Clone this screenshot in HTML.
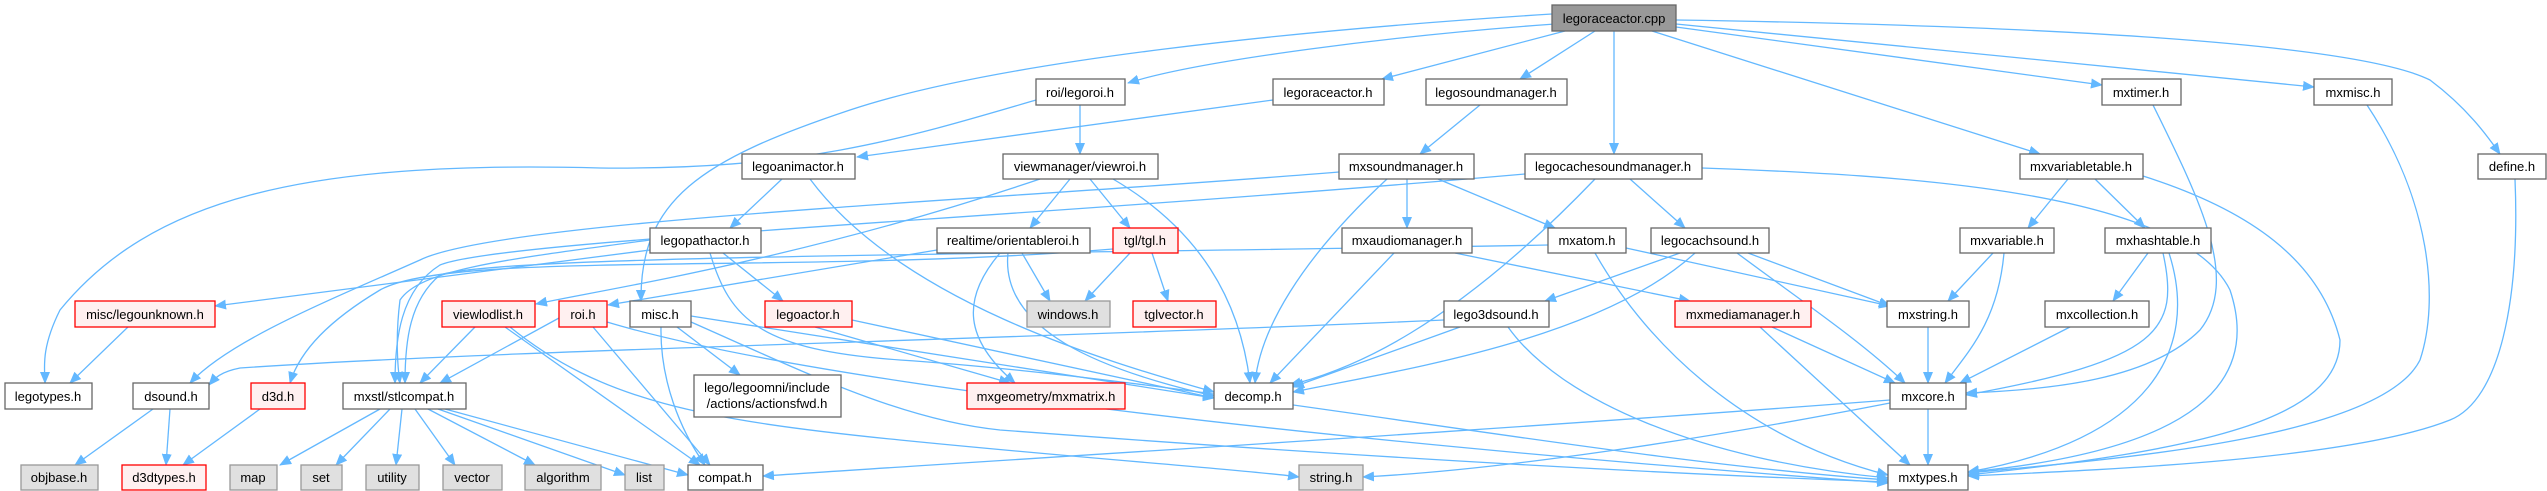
<!DOCTYPE html>
<html><head><meta charset="utf-8"><style>
html,body{margin:0;padding:0;background:#fff;}
svg{display:block;}
text{font-family:"Liberation Sans",Helvetica,sans-serif;font-size:13px;fill:#000;text-anchor:middle;}
.n rect{fill:#fff;stroke:#666;stroke-width:1.3;}
.r rect{fill:#fff0f0;stroke:#f00;stroke-width:1.3;}
.g rect{fill:#e0e0e0;stroke:#999;stroke-width:1.3;}
.e path{fill:none;stroke:#63b8ff;stroke-width:1.3;marker-end:url(#a);}
</style></head><body>
<svg width="2547" height="491" viewBox="0 0 2547 491" xmlns="http://www.w3.org/2000/svg">
<defs><marker id="a" markerUnits="userSpaceOnUse" markerWidth="12" markerHeight="10" refX="11" refY="5" orient="auto"><path d="M0,0 L12,5 L0,10 z" fill="#63b8ff"/></marker></defs>
<g class="e">
<path d="M1555,24 C1400,35 1200,60 1128,83"/>
<path d="M1565,31 L1382,79"/>
<path d="M1595,31 L1520,79"/>
<path d="M1614,31 L1614,154"/>
<path d="M1652,31 L2040,154"/>
<path d="M1676,27 L2102,85"/>
<path d="M1676,24 L2314,87"/>
<path d="M1676,20 C2000,25 2350,40 2430,80 C2470,110 2490,140 2500,154"/>
<path d="M1552,14 C1300,30 1000,60 850,110 C700,160 640,200 641,301"/>
<path d="M1036,100 C900,140 800,170 600,168 C300,160 150,200 60,310 C40,350 45,370 45,383"/>
<path d="M1080,105 L1080,154"/>
<path d="M1273,100 L857,157"/>
<path d="M1480,105 L1420,154"/>
<path d="M782,179 L730,228"/>
<path d="M810,179 C900,300 1100,360 1214,392"/>
<path d="M1070,179 L1030,228"/>
<path d="M1090,179 L1130,228"/>
<path d="M1113,179 C1200,230 1240,300 1250,383"/>
<path d="M1040,179 C800,260 600,290 536,304"/>
<path d="M1339,172 C1000,200 500,220 420,260 C330,300 230,340 190,383"/>
<path d="M1387,179 C1300,260 1260,330 1255,383"/>
<path d="M1407,179 L1407,228"/>
<path d="M1438,179 L1555,228"/>
<path d="M1630,179 L1685,228"/>
<path d="M1595,179 C1450,330 1350,370 1290,385"/>
<path d="M1702,168 C1900,175 2180,190 2230,290 C2260,380 2200,450 1968,472"/>
<path d="M1525,174 C1000,220 500,240 440,265 C400,290 395,340 395,383"/>
<path d="M1022,253 L1050,301"/>
<path d="M1000,253 C960,300 965,340 1015,383"/>
<path d="M1008,253 C1000,330 1100,370 1214,396"/>
<path d="M937,250 L608,305"/>
<path d="M1130,253 L1085,301"/>
<path d="M1152,253 L1168,301"/>
<path d="M1113,249 C800,275 450,250 380,290 C330,320 300,350 290,383"/>
<path d="M1394,253 L1270,383"/>
<path d="M1455,253 L1690,301"/>
<path d="M1626,248 L1890,306"/>
<path d="M1595,253 C1650,350 1750,440 1888,475"/>
<path d="M1548,245 C1000,255 500,255 440,275 C410,300 405,340 405,383"/>
<path d="M1680,253 L1545,301"/>
<path d="M1695,253 C1600,340 1400,370 1293,392"/>
<path d="M1748,253 L1890,306"/>
<path d="M1737,253 C1800,300 1860,340 1905,383"/>
<path d="M1444,320 C1000,340 500,350 240,368 C220,372 215,378 209,385"/>
<path d="M1460,327 L1293,387"/>
<path d="M1508,327 C1560,400 1700,460 1888,478"/>
<path d="M1772,327 L1895,383"/>
<path d="M1760,327 L1910,465"/>
<path d="M2068,179 L2028,228"/>
<path d="M2095,179 L2145,228"/>
<path d="M2143,176 C2250,210 2320,260 2340,340 C2340,420 2200,450 1968,475"/>
<path d="M1993,253 L1948,301"/>
<path d="M2004,253 C1998,320 1970,350 1945,383"/>
<path d="M2148,253 L2113,301"/>
<path d="M2163,253 C2180,330 2160,360 1966,395"/>
<path d="M2169,253 C2200,350 2150,440 1968,472"/>
<path d="M2153,105 C2200,200 2240,280 2200,330 C2150,380 2050,390 1966,393"/>
<path d="M2367,105 C2430,200 2440,300 2420,360 C2380,440 2100,460 1968,473"/>
<path d="M2515,179 C2520,300 2500,400 2450,420 C2350,460 2100,470 1968,476"/>
<path d="M2070,327 L1960,383"/>
<path d="M1928,327 L1928,383"/>
<path d="M1928,409 L1928,465"/>
<path d="M1890,400 C1500,430 1000,460 763,476"/>
<path d="M1890,403 C1700,440 1500,470 1363,477"/>
<path d="M650,250 L215,306"/>
<path d="M723,253 L783,301"/>
<path d="M710,253 C730,320 760,350 900,360 C1200,380 1600,460 1888,480"/>
<path d="M650,240 C500,260 420,270 400,300 C395,340 398,370 400,383"/>
<path d="M128,327 L70,383"/>
<path d="M852,320 L1214,398"/>
<path d="M815,327 L1010,383"/>
<path d="M475,327 L420,383"/>
<path d="M505,327 L700,465"/>
<path d="M510,327 C600,400 700,420 900,440 C1100,460 1250,470 1299,477"/>
<path d="M559,318 L440,383"/>
<path d="M593,327 L710,465"/>
<path d="M607,322 C800,380 1300,440 1888,483"/>
<path d="M661,327 C660,380 680,430 705,465"/>
<path d="M677,327 L740,375"/>
<path d="M691,316 L1214,398"/>
<path d="M691,322 C800,370 900,420 1000,430 C1400,460 1700,475 1888,482"/>
<path d="M153,409 L75,465"/>
<path d="M170,409 L166,465"/>
<path d="M260,409 L183,465"/>
<path d="M380,409 L280,465"/>
<path d="M390,409 L336,465"/>
<path d="M402,409 L396,465"/>
<path d="M415,409 L455,465"/>
<path d="M428,409 L535,465"/>
<path d="M438,409 L625,475"/>
<path d="M445,409 L688,475"/>
</g>
<g><rect x="1552" y="5" width="124" height="26" fill="#999" stroke="#666" stroke-width="1.3"/><text x="1614" y="23">legoraceactor.cpp</text></g>
<g class="n"><rect x="1036" y="79" width="89" height="26"/><text x="1080" y="97">roi/legoroi.h</text></g>
<g class="n"><rect x="1273" y="79" width="111" height="26"/><text x="1328" y="97">legoraceactor.h</text></g>
<g class="n"><rect x="1426" y="79" width="141" height="26"/><text x="1496" y="97">legosoundmanager.h</text></g>
<g class="n"><rect x="2102" y="79" width="79" height="26"/><text x="2141" y="97">mxtimer.h</text></g>
<g class="n"><rect x="2314" y="79" width="78" height="26"/><text x="2353" y="97">mxmisc.h</text></g>
<g class="n"><rect x="742" y="154" width="113" height="25"/><text x="798" y="171">legoanimactor.h</text></g>
<g class="n"><rect x="1003" y="154" width="155" height="25"/><text x="1080" y="171">viewmanager/viewroi.h</text></g>
<g class="n"><rect x="1339" y="154" width="135" height="25"/><text x="1406" y="171">mxsoundmanager.h</text></g>
<g class="n"><rect x="1525" y="154" width="177" height="25"/><text x="1613" y="171">legocachesoundmanager.h</text></g>
<g class="n"><rect x="2020" y="154" width="123" height="25"/><text x="2081" y="171">mxvariabletable.h</text></g>
<g class="n"><rect x="2478" y="154" width="68" height="25"/><text x="2512" y="171">define.h</text></g>
<g class="n"><rect x="650" y="228" width="111" height="25"/><text x="705" y="245">legopathactor.h</text></g>
<g class="n"><rect x="937" y="228" width="153" height="25"/><text x="1013" y="245">realtime/orientableroi.h</text></g>
<g class="r"><rect x="1113" y="228" width="65" height="25"/><text x="1145" y="245">tgl/tgl.h</text></g>
<g class="n"><rect x="1342" y="228" width="130" height="25"/><text x="1407" y="245">mxaudiomanager.h</text></g>
<g class="n"><rect x="1548" y="228" width="78" height="25"/><text x="1587" y="245">mxatom.h</text></g>
<g class="n"><rect x="1651" y="228" width="118" height="25"/><text x="1710" y="245">legocachsound.h</text></g>
<g class="n"><rect x="1960" y="228" width="94" height="25"/><text x="2007" y="245">mxvariable.h</text></g>
<g class="n"><rect x="2105" y="228" width="106" height="25"/><text x="2158" y="245">mxhashtable.h</text></g>
<g class="r"><rect x="75" y="301" width="140" height="26"/><text x="145" y="319">misc/legounknown.h</text></g>
<g class="r"><rect x="442" y="301" width="93" height="26"/><text x="488" y="319">viewlodlist.h</text></g>
<g class="r"><rect x="559" y="301" width="48" height="26"/><text x="583" y="319">roi.h</text></g>
<g class="n"><rect x="630" y="301" width="61" height="26"/><text x="660" y="319">misc.h</text></g>
<g class="r"><rect x="765" y="301" width="87" height="26"/><text x="808" y="319">legoactor.h</text></g>
<g class="g"><rect x="1027" y="301" width="83" height="26"/><text x="1068" y="319">windows.h</text></g>
<g class="r"><rect x="1133" y="301" width="83" height="26"/><text x="1174" y="319">tglvector.h</text></g>
<g class="n"><rect x="1444" y="301" width="105" height="26"/><text x="1496" y="319">lego3dsound.h</text></g>
<g class="r"><rect x="1675" y="301" width="136" height="26"/><text x="1743" y="319">mxmediamanager.h</text></g>
<g class="n"><rect x="1887" y="301" width="82" height="26"/><text x="1928" y="319">mxstring.h</text></g>
<g class="n"><rect x="2045" y="301" width="104" height="26"/><text x="2097" y="319">mxcollection.h</text></g>
<g class="n"><rect x="5" y="383" width="87" height="26"/><text x="48" y="401">legotypes.h</text></g>
<g class="n"><rect x="133" y="383" width="76" height="26"/><text x="171" y="401">dsound.h</text></g>
<g class="r"><rect x="251" y="383" width="54" height="26"/><text x="278" y="401">d3d.h</text></g>
<g class="n"><rect x="343" y="383" width="123" height="26"/><text x="404" y="401">mxstl/stlcompat.h</text></g>
<g class="n"><rect x="694" y="375" width="147" height="42"/><text x="767" y="392">lego/legoomni/include</text><text x="767" y="408">/actions/actionsfwd.h</text></g>
<g class="r"><rect x="967" y="383" width="158" height="26"/><text x="1046" y="401">mxgeometry/mxmatrix.h</text></g>
<g class="n"><rect x="1214" y="383" width="79" height="26"/><text x="1253" y="401">decomp.h</text></g>
<g class="n"><rect x="1890" y="383" width="76" height="26"/><text x="1928" y="401">mxcore.h</text></g>
<g class="g"><rect x="21" y="465" width="77" height="25"/><text x="59" y="482">objbase.h</text></g>
<g class="r"><rect x="122" y="465" width="84" height="25"/><text x="164" y="482">d3dtypes.h</text></g>
<g class="g"><rect x="230" y="465" width="47" height="25"/><text x="253" y="482">map</text></g>
<g class="g"><rect x="301" y="465" width="41" height="25"/><text x="321" y="482">set</text></g>
<g class="g"><rect x="366" y="465" width="53" height="25"/><text x="392" y="482">utility</text></g>
<g class="g"><rect x="443" y="465" width="59" height="25"/><text x="472" y="482">vector</text></g>
<g class="g"><rect x="525" y="465" width="76" height="25"/><text x="563" y="482">algorithm</text></g>
<g class="g"><rect x="625" y="465" width="39" height="25"/><text x="644" y="482">list</text></g>
<g class="n"><rect x="688" y="465" width="75" height="25"/><text x="725" y="482">compat.h</text></g>
<g class="g"><rect x="1299" y="465" width="64" height="25"/><text x="1331" y="482">string.h</text></g>
<g class="n"><rect x="1888" y="465" width="80" height="25"/><text x="1928" y="482">mxtypes.h</text></g>
</svg>
</body></html>
